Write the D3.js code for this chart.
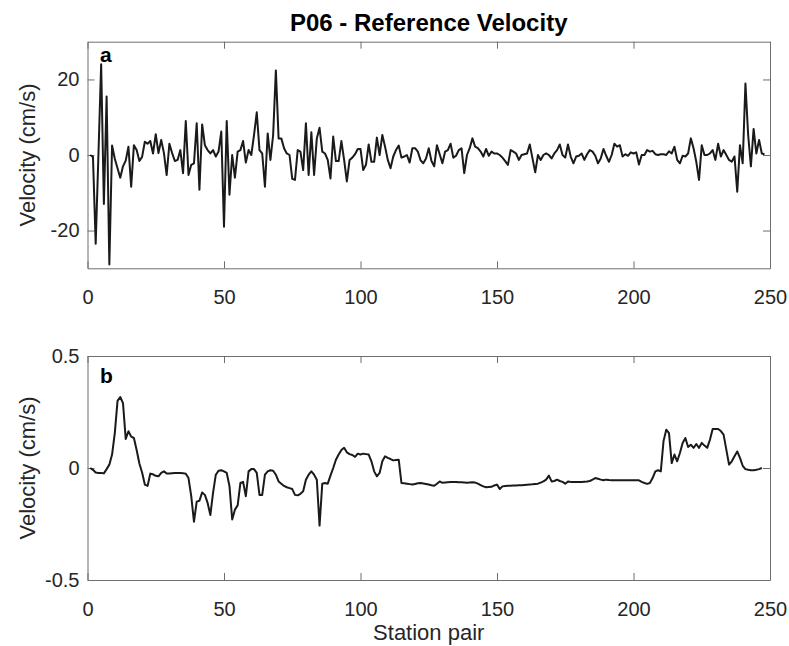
<!DOCTYPE html>
<html>
  <head>
    <meta charset="utf-8">
    <title>P06 - Reference Velocity</title>
    <style>
      body { margin: 0; background: #fff; }
      text { font-family: "Liberation Sans", Arial, sans-serif; fill: #262626; }
      .axis path, .axis line { stroke: #6e6e6e; }
      .trace { fill: none; stroke: #1a1a1a; stroke-width: 2; stroke-linejoin: round; }
    </style>
  </head>
  <body>
    <script src="https://d3js.org/d3.v7.min.js"></script>
    <script>

    // velocity per station pair (index 0 = station pair 1)
    var velocityA = [
      0, -0.5, -23.5, 0, 24, -13, 15.5, -29, 2.5, -1,
      -3.5, -6, -3, -1.5, 2.2, -8.4, 2.6, 1.3, -1.6, -0.5,
      3.5, 3, 3.7, 0.4, 5.5, 0.5, 4, 0.5, -5.3, 3,
      0.5, -1.6, -1.3, 1.3, -4.8, 9, -5.3, -2.6, -2.2, 8.4,
      -9.2, 8.1, 2.6, 1.3, 0.4, 1.3, -0.4, 0.9, 6.2, -19,
      9, -10.5, 0, -6, 0.9, 1.3, 3.7, -2, 1.3, 0,
      5.3, 11.3, 1.3, 0.4, -8.4, 5.7, -1.3, 5.3, 22.4, 4.4,
      4.4, 1.8, 0.4, 0, -6.3, -6.6, 1.3, 0.9, -4, 8.4,
      -5.3, 6, -5.3, 4.4, 7.2, 0.9, 0.4, -1.3, -6.2, 4.9,
      -1.6, -1.6, 3.7, -1.3, -7, -1.3, -0.7, 0.2, 1.6, 1.6,
      -4, -2.6, 2.8, -1.8, -1.8, 4.6, 0, 5.3, 2.2, -1.3,
      -3.5, -0.4, 1.3, 2.5, -0.7, -0.4, 0, -2, 1.8, 1.8,
      0.9, -1.4, -2.2, -0.9, 1.8, -1.6, -3, 2.6, 0.2, -2.2,
      0.9, 1.3, 3, -0.7, -0.2, 1.3, 1.8, -4.8, 0, 1.8,
      4.4, 2.2, 1.8, 0.9, -0.4, 1.6, -0.2, 0.9, 0.4, 0.4,
      0, -0.7, -1.6, -2.6, 1.3, 0.9, 0.4, -1.3, 0, 0.2,
      0.4, 2.8, -0.9, -4.6, 0, -1.3, 0, 0.4, 0, -0.9,
      0.4, 1.3, 2.8, 0, -0.7, 2.8, -0.4, -2.2, -0.4, -0.2,
      0.4, -1.3, 0.2, 1.3, 0.9, -0.2, -2.2, -0.9, 1.6, -0.2,
      -1.8, 0, 3, 2.2, 2.6, -0.4, 0.2, -0.2, 0.7, 0.4,
      0.7, -2.5, 0, 0, 1.3, 0.9, 1.1, 0.2, 0, 0.2,
      0.2, 0, 1, 0.4, 2.2, -1.3, -2.2, -0.2, -0.4, 0.4,
      4.4, 1.8, -1.8, -6.6, 2.6, 0, 0, 0.4, 1.3, -1.3,
      3, -0.4, 1.3, 0, -1.3, -1.8, -0.4, -9.7, 2.6, -2.2,
      18.9, 5.3, -3, 6.9, 0.4, 4, 0.4, 0.2
    ];

    var velocityB = [
      0, -0.008, -0.02, -0.022, -0.022, -0.024, -0.005, 0.015, 0.06, 0.156,
      0.3, 0.317, 0.29, 0.13, 0.164, 0.14, 0.134, 0.08, 0.02, -0.02,
      -0.074, -0.08, -0.025, -0.028, -0.035, -0.037, -0.022, -0.015, -0.025, -0.025,
      -0.023, -0.022, -0.022, -0.022, -0.023, -0.026, -0.045, -0.126, -0.24, -0.15,
      -0.146, -0.109, -0.12, -0.156, -0.21, -0.11, -0.03, -0.012, -0.01, -0.015,
      -0.022, -0.08, -0.23, -0.186, -0.167, -0.067, -0.062, -0.126, -0.015, -0.005,
      -0.005, -0.022, -0.12, -0.12, -0.03, -0.015, -0.01, -0.012, -0.03, -0.06,
      -0.07, -0.08, -0.086, -0.09, -0.094, -0.12, -0.122, -0.115, -0.104, -0.052,
      -0.03, -0.015, -0.03, -0.052, -0.257, -0.07, -0.067, -0.07, -0.034, 0,
      0.037, 0.06, 0.08, 0.09, 0.07, 0.062, 0.058, 0.05, 0.064, 0.06,
      0.064, 0.062, 0.06, 0.03, -0.015, -0.037, -0.022, 0.03, 0.052, 0.045,
      0.04, 0.034, 0.036, 0.037, -0.067, -0.068, -0.07, -0.072, -0.074, -0.071,
      -0.068, -0.067, -0.069, -0.071, -0.074, -0.077, -0.079, -0.07, -0.06, -0.066,
      -0.065, -0.064, -0.063, -0.063, -0.063, -0.064, -0.064, -0.065, -0.066, -0.065,
      -0.064, -0.065, -0.07, -0.076, -0.082, -0.086, -0.085, -0.084, -0.078, -0.074,
      -0.094, -0.082, -0.08, -0.079, -0.079, -0.078, -0.078, -0.077, -0.077, -0.076,
      -0.075, -0.074, -0.073, -0.071, -0.07, -0.065, -0.06, -0.052, -0.034, -0.06,
      -0.058, -0.052, -0.058, -0.062, -0.07, -0.06, -0.062, -0.063, -0.063, -0.062,
      -0.062, -0.061, -0.06, -0.058, -0.052, -0.045, -0.048, -0.052, -0.055, -0.052,
      -0.054, -0.055, -0.055, -0.055, -0.055, -0.055, -0.055, -0.055, -0.055, -0.055,
      -0.055, -0.055, -0.062, -0.067, -0.071, -0.067, -0.045, -0.015, -0.01, -0.015,
      0.12, 0.171, 0.156, 0.022, 0.06, 0.03, 0.067, 0.112, 0.134, 0.094,
      0.104, 0.09, 0.107, 0.09, 0.112, 0.1, 0.09, 0.126, 0.174, 0.174,
      0.174, 0.165, 0.149, 0.082, 0.015, 0.03, 0.052, 0.074, 0.045, 0.01,
      -0.005, -0.008, -0.01, -0.01, -0.008, -0.005, 0
    ];

    var xTicks = [0, 50, 100, 150, 200, 250];
    var yTicksA = [-20, 0, 20];
    var yTicksB = [-0.5, 0, 0.5];

    var width = 789, height = 646;
    var left = 87.5, right = 770;

    var svg = d3.select("body").append("svg")
        .attr("width", width)
        .attr("height", height);

    var x = d3.scaleLinear().domain([0, 250]).range([left, right]);

    svg.append("text")
        .attr("x", (left + right) / 2)
        .attr("y", 30.5)
        .attr("text-anchor", "middle")
        .style("font-size", "24px")
        .style("font-weight", "bold")
        .style("fill", "#000")
        .text("P06 - Reference Velocity");

    drawPanel(velocityA, [-30, 30], yTicksA, 41.7, 268.3, "a");
    drawPanel(velocityB, [-0.5, 0.5], yTicksB, 356, 580, "b");

    svg.append("text")
        .attr("x", (left + right) / 2)
        .attr("y", 640)
        .attr("text-anchor", "middle")
        .style("font-size", "22px")
        .text("Station pair");

    function drawPanel(values, domain, yTicks, top, bottom, tag) {
      var y = d3.scaleLinear().domain(domain).range([bottom, top]);
      var fmt = function(d) { return String(d); };

      // inward ticks on all four sides, labels only left and bottom
      svg.append("g").attr("class", "axis")
          .attr("transform", "translate(0," + bottom + ")")
          .call(d3.axisBottom(x).tickValues(xTicks).tickFormat(fmt)
                .tickSizeInner(-7).tickSizeOuter(0).tickPadding(22))
          .call(function(g) { g.selectAll("text").style("font-size", "20px").style("fill", "#262626"); });

      svg.append("g").attr("class", "axis")
          .attr("transform", "translate(0," + top + ")")
          .call(d3.axisTop(x).tickValues(xTicks).tickFormat("")
                .tickSizeInner(-7).tickSizeOuter(0));

      svg.append("g").attr("class", "axis")
          .attr("transform", "translate(" + left + ",0)")
          .call(d3.axisLeft(y).tickValues(yTicks).tickFormat(fmt)
                .tickSizeInner(-7).tickSizeOuter(0).tickPadding(8))
          .call(function(g) { g.selectAll("text").style("font-size", "20px").style("fill", "#262626"); });

      svg.append("g").attr("class", "axis")
          .attr("transform", "translate(" + right + ",0)")
          .call(d3.axisRight(y).tickValues(yTicks).tickFormat("")
                .tickSizeInner(-7).tickSizeOuter(0));

      var line = d3.line()
          .x(function(d, i) { return x(i + 1); })
          .y(function(d) { return y(d); });

      svg.append("path")
          .datum(values)
          .attr("class", "trace")
          .attr("d", line);

      svg.append("text")
          .attr("x", 100)
          .attr("y", top + (tag == "a" ? 20 : 27))
          .style("font-size", "21px")
          .style("font-weight", "bold")
          .style("fill", "#000")
          .text(tag);

      svg.append("text")
          .attr("transform", "translate(35," + (top + bottom) / 2 + ") rotate(-90)")
          .attr("text-anchor", "middle")
          .style("font-size", "22px")
          .text("Velocity (cm/s)");
    }

    </script>
  </body>
</html>
